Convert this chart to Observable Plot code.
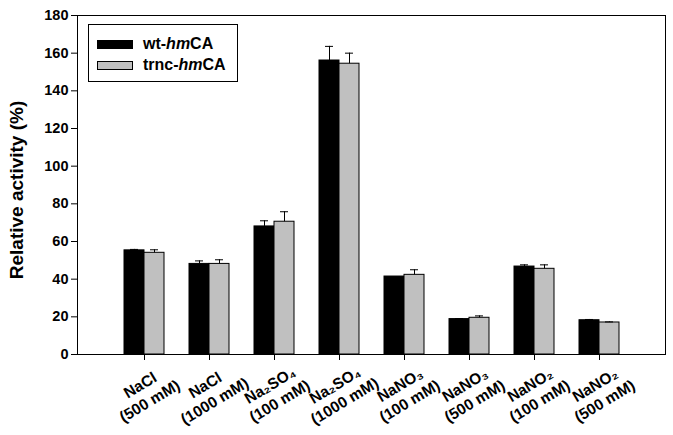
<!DOCTYPE html>
<html>
<head>
<meta charset="utf-8">
<script src="https://cdn.jsdelivr.net/npm/d3@7"></script>
<script src="https://cdn.jsdelivr.net/npm/@observablehq/plot@0.6"></script>
<style>
  html, body { margin: 0; padding: 0; background: white; }
  #wrap { position: relative; width: 673px; height: 435px; font-family: "Liberation Sans", Arial, sans-serif; }
  #legend { position: absolute; left: 88px; top: 24px; width: 150px; height: 58px; border: 1px solid black; background: white; box-sizing: border-box; }
  .row { position: absolute; left: 8px; display: flex; align-items: center; font-weight: bold; font-size: 16px; line-height: 18px; }
  .sw { width: 36px; height: 9px; border: 1px solid black; box-sizing: border-box; margin-right: 10px; }
</style>
</head>
<body>
<div id="wrap"></div>
<script>
const categories = ["NaCl\n(500 mM)", "NaCl\n(1000 mM)", "Na₂SO₄\n(100 mM)", "Na₂SO₄\n(1000 mM)", "NaNO₃\n(100 mM)", "NaNO₃\n(500 mM)", "NaNO₂\n(100 mM)", "NaNO₂\n(500 mM)"];
const seriesNames = ["wt-hmCA", "trnc-hmCA"];
const wtValues = [55.3, 48.1, 68.0, 156.1, 41.4, 18.8, 46.7, 18.2];
const wtErrors = [0.5, 1.6, 3.0, 7.5, 0.0, 0.3, 0.9, 0.4];
const trncValues = [54.0, 48.1, 70.5, 154.4, 42.3, 19.5, 45.5, 17.0];
const trncErrors = [1.6, 2.2, 5.3, 5.6, 2.7, 1.0, 2.1, 0.3];
const yTicks = [0, 20, 40, 60, 80, 100, 120, 140, 160, 180];
const yLabel = "Relative activity (%)";

const wt = categories.map((c, i) => ({cat: c, v: wtValues[i], e: wtErrors[i]}));
const trnc = categories.map((c, i) => ({cat: c, v: trncValues[i], e: trncErrors[i]}));

const chart = Plot.plot({
  width: 673,
  height: 435,
  marginLeft: 77,
  marginRight: 8,
  marginTop: 15,
  marginBottom: 81,
  style: {fontFamily: "'Liberation Sans', Arial, sans-serif", background: "white", color: "black"},
  x: {domain: categories, range: [108.95, 632.95], paddingInner: 0.39, paddingOuter: 0.195, axis: null},
  y: {domain: [0, 180], axis: null},
  marks: [
    Plot.barY(wt, {x: "cat", y: "v", fill: "black", stroke: "black", strokeWidth: 1, insetRight: 20}),
    Plot.barY(trnc, {x: "cat", y: "v", fill: "#c0c0c0", stroke: "black", strokeWidth: 1, insetLeft: 20}),
    Plot.ruleX(wt.filter(d => d.e > 0), {x: "cat", y1: "v", y2: d => d.v + d.e, dx: -10, stroke: "black"}),
    Plot.tickY(wt.filter(d => d.e > 0), {x: "cat", y: d => d.v + d.e, insetLeft: 6, insetRight: 26, stroke: "black"}),
    Plot.ruleX(trnc.filter(d => d.e > 0), {x: "cat", y1: "v", y2: d => d.v + d.e, dx: 10, stroke: "black"}),
    Plot.tickY(trnc.filter(d => d.e > 0), {x: "cat", y: d => d.v + d.e, insetLeft: 26, insetRight: 6, stroke: "black"}),
    Plot.frame({stroke: "black"}),
    Plot.axisY({ticks: yTicks, tickSize: 6, tickPadding: 3, fontSize: 14.5, fontWeight: "bold", label: null}),
    Plot.axisX({tickSize: 6, tickFormat: () => "", label: null}),
    Plot.text(categories, {x: d => d, frameAnchor: "bottom", dy: 38, rotate: -31, textAnchor: "middle", lineAnchor: "middle", fontSize: 15.5, fontWeight: "bold", lineHeight: 1.2}),
    Plot.text([yLabel], {frameAnchor: "left", dx: -61, dy: 5, rotate: -90, textAnchor: "middle", fontSize: 19, fontWeight: "bold"})
  ]
});

const wrap = document.getElementById("wrap");
wrap.appendChild(chart);

const legend = document.createElement("div");
legend.id = "legend";
const colors = ["black", "#c0c0c0"];
seriesNames.forEach((name, i) => {
  const row = document.createElement("div");
  row.className = "row";
  row.style.top = (i === 0 ? 10 : 31) + "px";
  const sw = document.createElement("div");
  sw.className = "sw";
  sw.style.background = colors[i];
  row.appendChild(sw);
  const label = document.createElement("span");
  const parts = name.split("hm");
  label.innerHTML = parts[0] + "<i>hm</i>" + parts[1];
  row.appendChild(label);
  legend.appendChild(row);
});
wrap.appendChild(legend);
</script>
</body>
</html>
